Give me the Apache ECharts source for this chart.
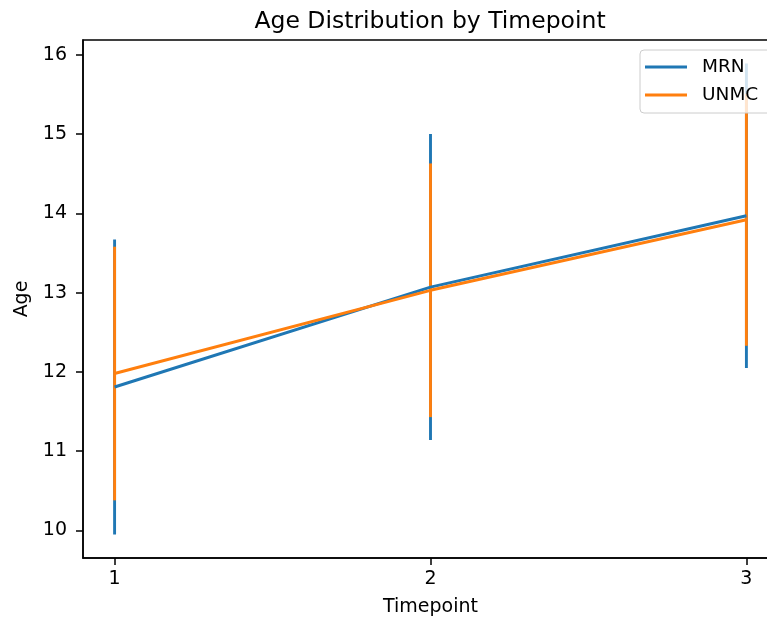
<!DOCTYPE html>
<html>
<head>
<meta charset="utf-8">
<script src="https://cdn.jsdelivr.net/npm/echarts@6/dist/echarts.min.js"></script>
<style>
html, body { margin: 0; padding: 0; background: #fff; }
#main { width: 767px; height: 625px; }
</style>
</head>
<body>
<div id="main"></div>
<script>
// data
var timepoints = [1, 2, 3];
var mrnMean = [11.81, 13.07, 13.97];
var mrnErr = [1.86, 1.93, 1.92];
var unmcMean = [11.98, 13.03, 13.92];
var unmcErr = [1.60, 1.60, 1.59];
var yTicks = [10, 11, 12, 13, 14, 15, 16];

var blue = '#1f77b4', orange = '#ff7f0e';
var FONT = 'DejaVu Sans';

function linePts(means) {
    return timepoints.map(function (t, i) { return [t, means[i]]; });
}
function barPts(means, errs) {
    return timepoints.map(function (t, i) { return [t, means[i] - errs[i], means[i] + errs[i]]; });
}

// axis limits like matplotlib's 5% margins
var lows = [], highs = [];
timepoints.forEach(function (t, i) {
    lows.push(mrnMean[i] - mrnErr[i], unmcMean[i] - unmcErr[i]);
    highs.push(mrnMean[i] + mrnErr[i], unmcMean[i] + unmcErr[i]);
});
var yLo = Math.min.apply(null, lows), yHi = Math.max.apply(null, highs);
var yPad = (yHi - yLo) * 0.05;
var xPad = (timepoints[timepoints.length - 1] - timepoints[0]) * 0.05;

function errSeries(name, color, data) {
    return {
        name: name,
        type: 'custom',
        data: data,
        encode: { x: 0, y: [1, 2] },
        silent: true,
        renderItem: function (params, api) {
            var a = api.coord([api.value(0), api.value(1)]);
            var b = api.coord([api.value(0), api.value(2)]);
            return {
                type: 'line',
                shape: { x1: a[0], y1: a[1], x2: b[0], y2: b[1] },
                style: { stroke: color, lineWidth: 2.9 }
            };
        }
    };
}

var myChart = echarts.init(document.getElementById('main'));
myChart.setOption({
    animation: false,
    title: {
        text: 'Age Distribution by Timepoint',
        left: 425,
        top: 5,
        textAlign: 'center',
        textStyle: { fontFamily: FONT, fontSize: 23.5, fontWeight: 'normal', color: '#000' }
    },
    legend: {
        data: ['MRN', 'UNMC'],
        orient: 'vertical',
        left: 640,
        top: 50,
        padding: [7, 60, 8, 5],
        icon: 'rect',
        itemWidth: 42,
        itemHeight: 3,
        itemGap: 8,
        backgroundColor: 'rgba(255,255,255,0.8)',
        borderColor: '#cccccc',
        borderWidth: 1,
        borderRadius: 4,
        textStyle: { fontFamily: FONT, fontSize: 18.5, color: '#000', lineHeight: 20, padding: [0, 0, 0, 10] }
    },
    grid: {
        left: 83, top: 40, width: 695, bottom: 67,
        outerBoundsMode: 'none',
        containLabel: false,
        show: true, borderColor: '#000', borderWidth: 1.5
    },
    xAxis: {
        type: 'value',
        min: timepoints[0] - xPad,
        max: timepoints[timepoints.length - 1] + xPad,
        name: 'Timepoint',
        nameLocation: 'middle',
        nameGap: 40,
        nameTextStyle: { fontFamily: FONT, fontSize: 19, color: '#000' },
        axisLine: { show: true, lineStyle: { color: '#000', width: 1.5 } },
        axisTick: { show: true, length: 7, customValues: timepoints, lineStyle: { color: '#000', width: 1.5 } },
        axisLabel: { customValues: timepoints, fontFamily: FONT, fontSize: 19, color: '#000', margin: 12 },
        splitLine: { show: false }
    },
    yAxis: {
        type: 'value',
        min: yLo - yPad,
        max: yHi + yPad,
        name: 'Age',
        nameLocation: 'middle',
        nameGap: 43,
        nameRotate: 90,
        nameTextStyle: { fontFamily: FONT, fontSize: 19, color: '#000' },
        axisLine: { show: true, lineStyle: { color: '#000', width: 1.5 } },
        axisTick: { show: true, length: 7, customValues: yTicks, lineStyle: { color: '#000', width: 1.5 } },
        axisLabel: { customValues: yTicks, fontFamily: FONT, fontSize: 19, color: '#000', margin: 16 },
        splitLine: { show: false }
    },
    series: [
        errSeries('MRN err', blue, barPts(mrnMean, mrnErr)),
        {
            name: 'MRN', type: 'line', data: linePts(mrnMean),
            symbol: 'none', color: blue, lineStyle: { width: 2.9 }
        },
        errSeries('UNMC err', orange, barPts(unmcMean, unmcErr)),
        {
            name: 'UNMC', type: 'line', data: linePts(unmcMean),
            symbol: 'none', color: orange, lineStyle: { width: 2.9 }
        }
    ]
});
</script>
</body>
</html>
